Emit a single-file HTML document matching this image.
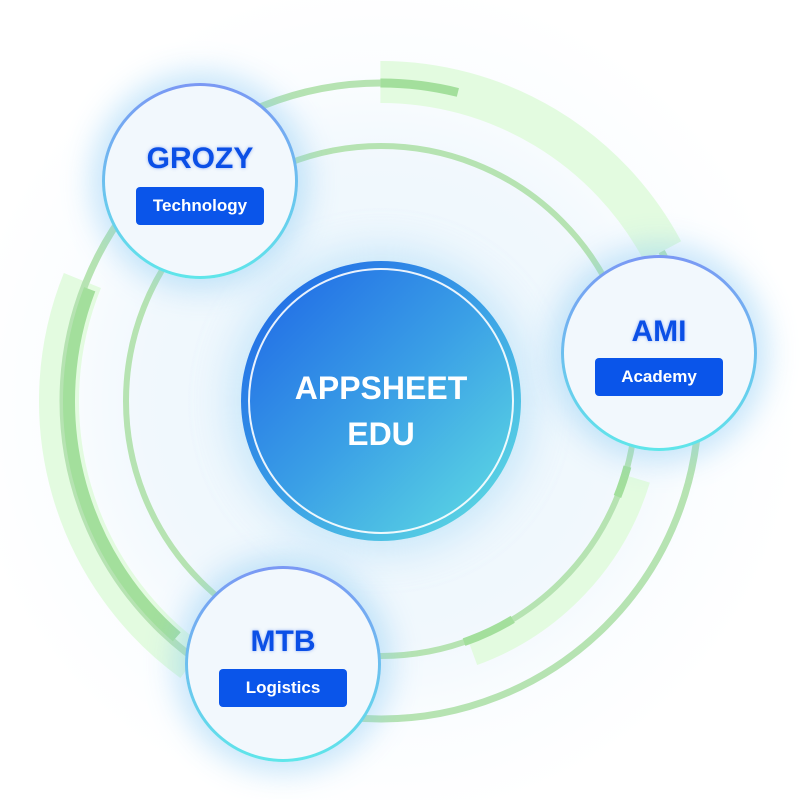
<!DOCTYPE html>
<html><head><meta charset="utf-8"><style>
html,body{margin:0;padding:0;background:#fff;width:800px;height:800px;overflow:hidden}
#w{position:relative;width:800px;height:800px;overflow:hidden;font-family:"Liberation Sans",sans-serif;background:radial-gradient(circle at 381px 401px,#eaf6fd 0,#f1f8fd 240px,#fbfdff 330px,#fff 420px)}
svg{position:absolute;left:0;top:0}
.sat{position:absolute;width:190px;height:190px;border-radius:50%;padding:3px;background:linear-gradient(180deg,#7a98f4,#5fe6ea);box-shadow:0 0 30px 10px rgba(130,200,245,.45)}
.sat .in{width:190px;height:190px;border-radius:50%;background:#f2f8fd;position:relative}
.t{position:absolute;left:0;right:0;text-align:center;font-weight:bold;font-size:30px;color:#0b4fe6;text-shadow:0 0 3px rgba(60,110,240,.5)}
.b{position:absolute;left:31px;width:128px;height:38px;background:#0a55ea;border-radius:4px;color:#fff;font-weight:bold;font-size:17px;line-height:38px;text-align:center}
#c{position:absolute;left:241px;top:261px;width:280px;height:280px;border-radius:50%;background:linear-gradient(135deg,#1c62e6 0%,#3a9fe6 50%,#62e2e2 100%);box-shadow:0 0 40px 10px rgba(140,205,245,.4)}
#c .r{position:absolute;left:7px;top:7px;width:262px;height:262px;border-radius:50%;border:2px solid #fff;opacity:.9}
#c .tx{position:absolute;left:0;right:0;top:104px;text-align:center;color:#fff;font-weight:bold;font-size:32px;line-height:46px}
</style></head><body><div id="w">
<svg width="800" height="800">
<g fill="none">
<circle cx="381" cy="401" r="322" stroke="#e3fbe0" stroke-width="40" pathLength="360" stroke-dasharray="76 284" transform="rotate(126 381 401)"/>
<circle cx="381" cy="401" r="267" stroke="#e3fbe0" stroke-width="28" pathLength="360" stroke-dasharray="53 307" transform="rotate(17 381 401)"/>
<circle cx="381" cy="401" r="318" stroke="#b6e3b2" stroke-width="7"/>
<circle cx="381" cy="401" r="255" stroke="#b6e3b2" stroke-width="6"/>
<circle cx="381" cy="401" r="319" stroke="#e3fbe0" stroke-width="42" pathLength="360" stroke-dasharray="62 298" transform="rotate(-90 381 401)"/>
<circle cx="381" cy="401" r="318" stroke="#a3df9c" stroke-width="9" pathLength="360" stroke-dasharray="14 346" transform="rotate(-90 381 401)"/>
<circle cx="381" cy="401" r="312" stroke="#a3df9c" stroke-width="12" pathLength="360" stroke-dasharray="70 290" transform="rotate(131 381 401)"/>
<circle cx="381" cy="401" r="255" stroke="#a3df9c" stroke-width="8" pathLength="360" stroke-dasharray="12 348" transform="rotate(59 381 401)"/>
<circle cx="381" cy="401" r="255" stroke="#a3df9c" stroke-width="8" pathLength="360" stroke-dasharray="7 353" transform="rotate(15 381 401)"/>
</g>
</svg>
<div id="c"><div class="r"></div><div class="tx">APPSHEET<br>EDU</div></div>
<div class="sat" style="left:102px;top:83px"><div class="in"><div class="t" style="top:56px">GROZY</div><div class="b" style="top:101px">Technology</div></div></div>
<div class="sat" style="left:561px;top:255px"><div class="in"><div class="t" style="top:57px">AMI</div><div class="b" style="top:100px">Academy</div></div></div>
<div class="sat" style="left:185px;top:566px"><div class="in"><div class="t" style="top:56px">MTB</div><div class="b" style="top:100px">Logistics</div></div></div>
</div></body></html>
